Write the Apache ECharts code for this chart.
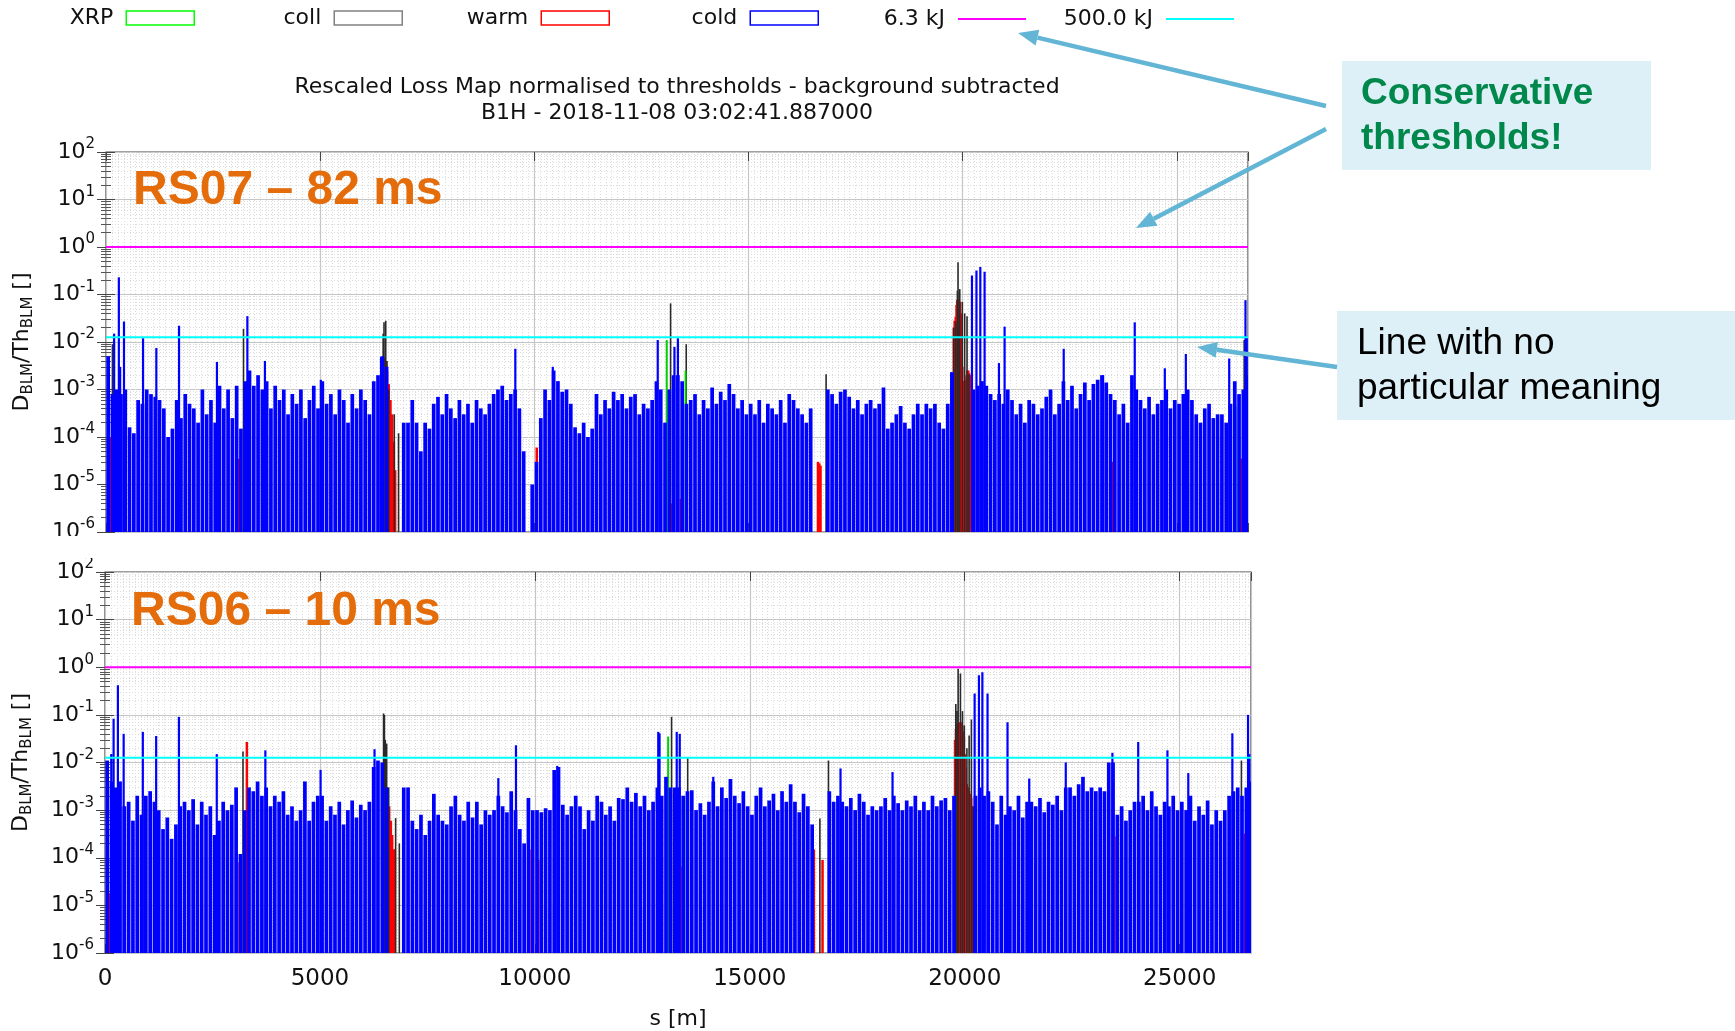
<!DOCTYPE html>
<html>
<head>
<meta charset="utf-8">
<title>Rescaled Loss Map B1H</title>
<script src="https://cdn.jsdelivr.net/npm/echarts@6/dist/echarts.min.js"></script>
<style>
  html, body { margin: 0; padding: 0; background: #ffffff; }
  #chart { width: 1735px; height: 1031px; }
</style>
</head>
<body>
<div id="chart"></div>
<script>
// ---------------------------------------------------------------------------
// Data: BLM signal normalised to threshold, B1H loss map 2018-11-08 03:02:41
// s positions in metres along the ring; values are D_BLM / Th_BLM
// ---------------------------------------------------------------------------
const ringLength = 26659;
const binSize = 100;               // cold-magnet monitors summarised per 100 m bin

// RS07 (82 ms running sum) - cold monitors, highest signal per 100 m bin
const coldBinsRS07 = [
  5e-3, 8e-4, 1e-3, 8e-4, 1e-3, 1.6e-4, 1.2e-4, 6e-4, 5e-4, 1e-3,
  8e-4, 7e-4, 6e-4, 4e-4, 1e-4, 1.5e-4, 6e-4, 2.5e-4, 8e-4, 5e-4,
  4e-4, 2e-4, 1e-3, 3e-4, 6e-4, 2e-4, 1.2e-3, 4e-4, 1e-3, 2.5e-4,
  1.2e-3, 1.5e-4, 1.5e-3, 2.5e-3, 1.2e-3, 2e-3, 1e-3, 1.5e-3, 4e-4, 1.2e-3,
  6e-4, 1e-3, 3e-4, 8e-4, 5e-4, 1e-3, 2.5e-4, 6e-4, 1.2e-3, 4e-4,
  1.5e-3, 5e-4, 8e-4, 3e-4, 1e-3, 6e-4, 2e-4, 8e-4, 4e-4, 1e-3,
  6e-4, 3e-4, 1.5e-3, 2e-3, 5e-3, 3e-3, null, null, null, 2e-4,
  2e-4, 6e-4, 2e-4, 5e-5, 2e-4, 1.5e-4, 5e-4, 7e-4, 3e-4, 8e-4,
  4e-4, 2.5e-4, 6e-4, 3e-4, 5e-4, 2e-4, 6e-4, 4e-4, 3e-4, 5e-4,
  8e-4, 1e-3, 1.2e-3, 6e-4, 8e-4, 1e-3, 4e-4, 5e-5, null, 1e-5,
  3e-5, 2.5e-4, 1e-3, 6e-4, 2.5e-3, 1.5e-3, 9e-4, 1e-3, 5e-4, 1.6e-4,
  1.2e-4, 2e-4, 1e-4, 1.5e-4, 8e-4, 3e-4, 6e-4, 4e-4, 9e-4, 6e-4,
  8e-4, 4e-4, 7e-4, 8e-4, 3e-4, 5e-4, 4e-4, 6e-4, 1.5e-3, 1e-3,
  2e-4, 1e-3, 2e-3, 2e-3, 1.5e-3, 5e-4, 6e-4, 8e-4, 3e-4, 6e-4,
  4e-4, 1.1e-3, 5e-4, 9e-4, 6e-4, 1.3e-3, 8e-4, 4e-4, 6e-4, 3e-4,
  5e-4, 3e-4, 6e-4, 2e-4, 5e-4, 4e-4, 3e-4, 6e-4, 2e-4, 8e-4,
  6e-4, 4e-4, 3e-4, 2e-4, 4e-4, null, null, null, 1e-3, 8e-4,
  5e-4, 9e-4, 1e-3, 7e-4, 4e-4, 6e-4, 3e-4, 5e-4, 6e-4, 4e-4,
  5e-4, 1.1e-3, 1.5e-4, 2e-4, 3e-4, 4.5e-4, 2e-4, 1.5e-4, 3e-4, 5e-4,
  3e-4, 5e-4, 4e-4, 5e-4, 2e-4, 1.5e-4, 5e-4, 2.3e-3, null, null,
  null, null, 1e-3, 1.2e-3, 1.5e-3, 1.2e-3, 8e-4, 6e-4, 8e-4, 5e-4,
  1e-3, 6e-4, 3e-4, 5e-4, 2e-4, 6e-4, 5e-4, 3e-4, 4e-4, 7e-4,
  1e-3, 3e-4, 5e-4, 1.5e-3, 6e-4, 1.2e-3, 4e-4, 8e-4, 1.4e-3, 6e-4,
  1.3e-3, 1.6e-3, 2e-3, 1.4e-3, 8e-4, 6e-4, 3e-4, 5e-4, 2e-4, 2e-3,
  1e-3, 6e-4, 4e-4, 7e-4, 3e-4, 5e-4, 6e-4, 1e-3, 4e-4, 6e-4,
  5e-4, 8e-4, 1e-3, 6e-4, 3e-4, 2e-4, 4e-4, 5e-4, 2.5e-4, 3e-4,
  3e-4, 2e-4, 5e-4, 1.5e-3, 8e-4, 1e-3, 2e-3
];

// RS07 - individual cold monitors standing out above the bins [s, value]
const coldPeaksRS07 = [
  [190, 1.5e-2], [300, 0.23], [330, 3e-3], [420, 2.7e-2], [865, 1.2e-2],
  [1175, 7.5e-3], [1705, 2.2e-2], [2590, 3.8e-3], [3300, 3.5e-2], [3710, 4e-3],
  [5015, 1.6e-3], [6420, 4.8e-3], [9555, 7.2e-3], [10430, 3e-3], [12880, 1.1e-2],
  [13270, 7.9e-3], [13350, 1.2e-2], [19730, 2.3e-3], [20215, 0.25], [20320, 0.32],
  [20410, 0.38], [20510, 0.3], [20845, 3.6e-3], [20977, 2.1e-2], [22357, 7.2e-3],
  [23276, 2e-3], [24015, 2.6e-2], [24717, 2.8e-3], [25208, 5.6e-3], [26220, 4.5e-3],
  [26600, 7.6e-2], [26630, 1.3e-2]
];

// RS07 - warm monitors [s, value]
const warmRS07 = [
  [110, 1e-4], [3110, 3.5e-5], [6440, 4.5e-3], [6470, 4.8e-3], [6500, 4.5e-3],
  [6530, 4e-3], [6560, 2.5e-3], [6600, 1.3e-3], [6640, 6e-4], [6680, 3e-4],
  [6720, 8e-5], [6750, 2e-5], [10055, 6e-5], [13200, 4e-6], [13420, 5e-6],
  [16620, 3e-5], [16650, 2.8e-5], [16680, 2.5e-5],
  [19790, 2e-2], [19810, 2.8e-2], [19835, 3.4e-2], [19855, 6e-2], [19870, 7.6e-2],
  [19890, 8e-2], [19910, 7.5e-2], [19935, 7e-2], [19955, 4e-2], [19970, 1.5e-2],
  [19990, 3e-3], [20010, 1.5e-3], [20030, 1.5e-3], [20050, 1.5e-3], [20070, 1.6e-3],
  [20090, 2e-3], [20110, 2.5e-3], [20130, 2.5e-3], [20150, 2.2e-3], [20165, 2e-3],
  [23510, 3e-5], [26510, 3.5e-5]
];

// RS07 - collimator monitors [s, value]
const collRS07 = [
  [150, 9e-3], [3210, 1.9e-2], [6470, 1.5e-2], [6490, 2.6e-2], [6530, 2.8e-2],
  [6560, 4e-3], [6600, 1e-3], [6730, 3e-4], [6830, 1.2e-4], [13180, 6.5e-2],
  [13545, 9e-3], [16810, 2.1e-3], [19790, 2e-2], [19835, 2.7e-2], [19875, 0.12],
  [19890, 0.48], [19930, 0.13], [19990, 7e-2], [20045, 4e-2], [20100, 3.5e-2],
  [20145, 2.1e-3], [26570, 1.1e-2]
];

// RS07 - XRP monitors [s, value]
const xrpRS07 = [[240, 5e-4], [13090, 1.1e-2], [13530, 2.5e-3], [26370, 4.5e-4]];

// RS06 (10 ms running sum) - cold monitors, highest signal per 100 m bin
const coldBinsRS06 = [
  1.1e-2, 4e-3, 3e-3, 4e-3, 1.2e-3, 1.5e-3, 6e-4, 2e-3, 8e-4, 2e-3,
  2.5e-3, 1.5e-3, 1e-3, 4e-4, 7e-4, 2.5e-4, 5e-4, 1.2e-3, 1.5e-3, 1e-3,
  1.7e-3, 5e-4, 1.5e-3, 8e-4, 1.2e-3, 3e-4, 6e-4, 1.5e-3, 1e-3, 1.3e-3,
  3e-3, 1.2e-4, 1e-3, 3e-3, 2.5e-3, 4e-3, 2e-3, 3e-3, 1.2e-3, 2e-3,
  1.5e-3, 2.5e-3, 8e-4, 1.2e-3, 6e-4, 1e-3, 4e-3, 6e-4, 1.5e-3, 2e-3,
  2e-3, 6e-4, 1.2e-3, 8e-4, 1.5e-3, 5e-4, 1e-3, 1.6e-3, 7e-4, 1.3e-3,
  1e-3, 1.5e-3, 8e-3, 1.1e-2, 1e-2, 3e-3, null, null, null, 3e-3,
  3e-3, 6e-4, 4e-4, 8e-4, 3e-4, 6e-4, 2.2e-3, 8e-4, 6e-4, 5e-4,
  1.2e-3, 2e-3, 8e-4, 6e-4, 1.5e-3, 7e-4, 1.5e-3, 5e-4, 1e-3, 8e-4,
  1e-3, 2e-3, 1.2e-3, 9e-4, 2.5e-3, 1e-3, 4e-4, 2e-4, 1.8e-3, 1e-3,
  1e-3, 9e-4, 1.1e-3, 1e-3, 7e-3, 8e-3, 1.3e-3, 8e-4, 1.2e-3, 2e-3,
  1.2e-3, 4e-4, 1e-3, 6e-4, 2e-3, 1.5e-3, 8e-4, 1.2e-3, 6e-4, 1.8e-3,
  1.7e-3, 3e-3, 1.5e-3, 2.3e-3, 1.2e-3, 2e-3, 1e-3, 1.5e-3, 3e-3, 2e-3,
  5e-3, 3e-3, 3e-3, 3e-3, 2e-3, 2.5e-3, 2.6e-3, 1e-3, 1.4e-3, 8e-4,
  1.5e-3, 4e-3, 1.2e-3, 3e-3, 1.8e-3, 4.5e-3, 2e-3, 1.4e-3, 2.5e-3, 1.2e-3,
  8e-4, 2e-3, 3e-3, 1.2e-3, 1.6e-3, 2.2e-3, 1e-3, 2.5e-3, 1.5e-3, 3.5e-3,
  1.5e-3, 9e-4, 2.2e-3, 1.2e-3, 5e-4, null, null, null, 2.5e-3, 1.5e-3,
  2e-3, 1.5e-3, 1.2e-3, 1.8e-3, 1e-3, 2.2e-3, 1.5e-3, 8e-4, 1.2e-3, 1e-3,
  1.2e-3, 1.8e-3, 1e-3, 2e-3, 1.4e-3, 1e-3, 1.6e-3, 1.2e-3, 2e-3, 1e-3,
  1.5e-3, 1e-3, 2e-3, 1.2e-3, 1.6e-3, 1.8e-3, 1e-3, 2e-3, null, null,
  null, null, 2e-3, 3e-3, 2e-3, 2.5e-3, 1.5e-3, 5e-4, 2e-3, 8e-4,
  1.2e-3, 1e-3, 2e-3, 7e-4, 1.5e-3, 1.5e-3, 1.2e-3, 1.8e-3, 9e-4, 1.5e-3,
  1.3e-3, 2e-3, 1e-3, 3e-3, 3e-3, 2e-3, 3.5e-3, 5e-3, 2.5e-3, 3e-3,
  2.5e-3, 3e-3, 2.5e-3, 1e-2, 1e-2, 8e-4, 1.2e-3, 6e-4, 1e-3, 1.5e-3,
  1.5e-3, 2e-3, 1e-3, 2.5e-3, 1.2e-3, 8e-4, 1.5e-3, 1.2e-3, 2e-3, 1e-3,
  1.5e-3, 1e-3, 2e-3, 6e-4, 1.2e-3, 8e-4, 1.6e-3, 5e-4, 1e-3, 6e-4,
  1e-3, 2e-3, 2.5e-3, 3e-3, 2e-3, 3e-3, 4e-3
];

// RS06 - individual cold monitors standing out above the bins [s, value]
const coldPeaksRS06 = [
  [147, 1.5e-2], [200, 8.3e-2], [300, 0.42], [434, 4e-2], [880, 4.4e-2],
  [1190, 3.6e-2], [1720, 9.1e-2], [2600, 1.5e-2], [3730, 1.8e-2], [5015, 7e-3],
  [6270, 1.9e-2], [9150, 4.7e-3], [9560, 2.3e-2], [10520, 8.5e-3], [12870, 4.4e-2],
  [12900, 4.1e-2], [13300, 4.4e-2], [13370, 4e-2], [14150, 5e-3], [14540, 4.5e-3],
  [17110, 7.5e-3], [18320, 6.3e-3], [20230, 0.28], [20330, 0.68], [20410, 0.79],
  [20530, 0.28], [20995, 7e-2], [21500, 4.6e-3], [22350, 1e-2], [23435, 1.6e-2],
  [24035, 2.7e-2], [24715, 1.8e-2], [25200, 6e-3], [26225, 4.1e-2], [26590, 0.1],
  [26620, 1.5e-2]
];

// RS06 - warm monitors [s, value]
const warmRS06 = [
  [110, 1.8e-5], [3130, 8e-5], [3300, 2.7e-2], [6480, 5e-3], [6500, 5.9e-3],
  [6520, 5.5e-3], [6550, 3e-3], [6580, 1.2e-3], [6610, 1.2e-3], [6650, 6e-4],
  [6680, 3e-4], [6710, 1.5e-4], [6740, 1.5e-4], [9923, 1.5e-4], [10078, 9e-5],
  [13256, 1.5e-5], [13434, 6.5e-5], [16490, 1.5e-4], [16692, 9e-5],
  [19775, 3e-2], [19795, 5e-2], [19815, 6e-2], [19840, 6.5e-2], [19865, 6.7e-2],
  [19890, 7e-2], [19915, 7e-2], [19940, 6e-2], [19960, 4.5e-2], [19980, 3.5e-2],
  [20000, 1.5e-2], [20025, 8e-3], [20050, 3.5e-3], [20075, 3e-3], [20100, 2.5e-3],
  [20125, 2.2e-3], [20150, 1.8e-3], [20175, 1.2e-3], [20195, 1e-3],
  [23530, 2.8e-4], [26515, 3.2e-4]
];

// RS06 - collimator monitors [s, value]
const collRS06 = [
  [150, 1.5e-2], [3210, 1.7e-2], [6480, 0.107], [6500, 0.1], [6520, 3e-2],
  [6552, 2.5e-2], [6600, 3e-3], [6761, 6.8e-4], [6847, 2e-4], [13180, 9.1e-2],
  [13555, 1.3e-2], [16630, 6.7e-4], [16830, 1.1e-2], [19792, 0.17], [19820, 0.12],
  [19846, 0.93], [19900, 0.74], [19947, 0.12], [19990, 6e-2], [20050, 2e-2],
  [20102, 3.7e-2], [20155, 8e-2], [20195, 1.2e-3], [26436, 1.1e-2]
];

// RS06 - XRP monitors [s, value]
const xrpRS06 = [[240, 5e-4], [13100, 3.5e-2], [13530, 2e-3]];

// Energy-equivalent reference levels (normalised)
const levelNames = ['6.3 kJ', '500.0 kJ'];
const levelValues = [1.0, 0.0126];

// Axis ticks
const sTicks = [0, 5000, 10000, 15000, 20000, 25000];
const yDecades = [-6, -5, -4, -3, -2, -1, 0, 1, 2];

// ---------------------------------------------------------------------------
const Y_MIN = Math.pow(10, yDecades[0]);
const Y_MAX = Math.pow(10, yDecades[yDecades.length - 1]);
const FONT = 'DejaVu Sans';
const COLORS = { XRP: '#00d000', coll: '#2a2a2a', warm: '#ff0000', cold: '#0000ff' };
const LEVEL_COLORS = ['#ff00ff', '#00ffff'];

function binsToPoints(bins) {
  const pts = [];
  bins.forEach((v, i) => { if (v != null) pts.push([i * binSize + binSize / 2, v]); });
  return pts;
}

const panels = [
  { grid: { left: 106, top: 152, width: 1142, height: 380 },
    bins: binsToPoints(coldBinsRS07), peaks: coldPeaksRS07,
    warm: warmRS07, coll: collRS07, xrp: xrpRS07 },
  { grid: { left: 105, top: 572, width: 1146, height: 381 },
    bins: binsToPoints(coldBinsRS06), peaks: coldPeaksRS06,
    warm: warmRS06, coll: collRS06, xrp: xrpRS06 }
];

function barSeries(name, data, color, width, p, z) {
  return {
    type: 'custom', name, data, z,
    xAxisIndex: p * 2, yAxisIndex: p * 2,
    encode: { x: 0, y: 1 },
    itemStyle: { color },
    clip: true, silent: true, animation: false,
    renderItem: (params, api) => {
      const top = api.coord([api.value(0), api.value(1)]);
      const base = api.coord([api.value(0), Y_MIN]);
      return {
        type: 'rect',
        shape: { x: top[0] - width / 2, y: top[1], width, height: base[1] - top[1] },
        style: { fill: color }
      };
    }
  };
}

function powLabel(v) {
  const e = Math.round(Math.log10(v));
  return '{b|10}{e|' + e + '}';
}

const xAxes = [], yAxes = [], series = [];
panels.forEach((panel, p) => {
  const isBottom = p === 1;
  xAxes.push({
    type: 'value', gridIndex: p, min: 0, max: ringLength, interval: sTicks[1] - sTicks[0],
    axisLine: { show: false },
    axisTick: { show: true, inside: true, length: 9, lineStyle: { color: '#444' } },
    splitLine: { show: true, lineStyle: { color: '#c6c6c6', width: 1.2 } },
    minorTick: { show: false, splitNumber: 36 },
    minorSplitLine: { show: true, lineStyle: { color: '#dcdcdc', width: 1, type: [1, 2] } },
    axisLabel: {
      show: isBottom, fontSize: 23, fontFamily: FONT, color: '#111', margin: 15,
      showMaxLabel: false, formatter: v => String(v)
    },
    name: isBottom ? 's [m]' : '', nameLocation: 'middle', nameGap: 55,
    nameTextStyle: { fontSize: 22, fontFamily: FONT, color: '#111' }
  });
  xAxes.push({
    type: 'value', gridIndex: p, min: 0, max: ringLength, interval: sTicks[1] - sTicks[0],
    position: 'top', axisLine: { show: false },
    axisTick: { show: true, inside: true, length: 9, lineStyle: { color: '#444' } },
    splitLine: { show: false }, axisLabel: { show: false }
  });
  yAxes.push({
    type: 'log', logBase: 10, gridIndex: p, min: Y_MIN, max: Y_MAX, splitNumber: yDecades.length - 1,
    axisLine: { show: false },
    axisTick: { show: true, inside: true, length: 9, lineStyle: { color: '#444' } },
    minorTick: { show: true, splitNumber: 9, length: 5, lineStyle: { color: '#555' } },
    splitLine: { show: true, lineStyle: { color: '#c6c6c6', width: 1.2 } },
    minorSplitLine: { show: true, lineStyle: { color: '#dcdcdc', width: 1, type: [1, 2] } },
    axisLabel: {
      formatter: powLabel, margin: 11, color: '#111',
      rich: {
        b: { fontSize: 22, fontFamily: FONT, color: '#111', lineHeight: 30 },
        e: { fontSize: 15, fontFamily: FONT, color: '#111', lineHeight: 15, verticalAlign: 'top' }
      }
    },
    name: 'D{s|BLM}/Th{s|BLM} []', nameLocation: 'middle', nameRotate: 90, nameGap: 70,
    nameTextStyle: {
      fontSize: 22, fontFamily: FONT, color: '#111', lineHeight: 28,
      rich: { s: { fontSize: 15, fontFamily: FONT, color: '#111', lineHeight: 15, verticalAlign: 'bottom' } }
    }
  });
  yAxes.push({
    type: 'log', logBase: 10, gridIndex: p, min: Y_MIN, max: Y_MAX, splitNumber: yDecades.length - 1,
    position: 'right', axisLine: { show: false },
    axisTick: { show: true, inside: true, length: 9, lineStyle: { color: '#444' } },
    minorTick: { show: true, splitNumber: 9, length: 5, lineStyle: { color: '#555' } },
    splitLine: { show: false }, axisLabel: { show: false }
  });

  series.push(barSeries('warm', panel.warm, COLORS.warm, 2.5, p, 3));
  series.push(barSeries('coll', panel.coll, COLORS.coll, 1.6, p, 4));
  series.push(barSeries('XRP', panel.xrp, COLORS.XRP, 2, p, 5));
  series.push(barSeries('cold', panel.bins, COLORS.cold, 3.7, p, 6));
  series.push(barSeries('cold', panel.peaks, COLORS.cold, 2.2, p, 6));
  levelNames.forEach((name, k) => {
    series.push({
      type: 'line', name, xAxisIndex: p * 2, yAxisIndex: p * 2, z: 10,
      data: [[0, levelValues[k]], [ringLength, levelValues[k]]],
      symbol: 'none', silent: true, animation: false,
      lineStyle: { color: LEVEL_COLORS[k], width: 2 },
      itemStyle: { color: LEVEL_COLORS[k] }
    });
  });
});

// Key: one entry per column, sample drawn right of the text
const keyEntries = [
  { name: 'XRP', right: 1540, color: '#00ff00', box: true },
  { name: 'coll', right: 1332, color: '#808080', box: true },
  { name: 'warm', right: 1125, color: '#ff0000', box: true },
  { name: 'cold', right: 916, color: '#0000ff', box: true },
  { name: '6.3 kJ', right: 709, color: '#ff00ff', box: false },
  { name: '500.0 kJ', right: 501, color: '#00ffff', box: false }
];
const legends = keyEntries.map(k => ({
  data: [k.box
    ? { name: k.name, icon: 'rect', itemStyle: { color: 'rgba(0,0,0,0)', borderColor: k.color, borderWidth: 1.5 } }
    : { name: k.name, icon: 'rect', itemStyle: { color: k.color, borderWidth: 0 } }],
  right: k.right, top: k.box ? 7 : 8, padding: 0, align: 'right', orient: 'horizontal',
  itemWidth: 68, itemHeight: k.box ? 14 : 2, selectedMode: false,
  textStyle: { fontSize: 22, fontFamily: FONT, color: '#111', padding: [0, 8, 0, 0] }
}));

// Annotation call-outs
const CALLOUT_BLUE = '#62b5d4';
function arrow(x1, y1, x2, y2) {
  const a = Math.atan2(y2 - y1, x2 - x1);
  const len = 20, half = 8;
  const bx = x2 - len * Math.cos(a), by = y2 - len * Math.sin(a);
  const nx = -Math.sin(a) * half, ny = Math.cos(a) * half;
  return [
    { type: 'line', z: 100, shape: { x1, y1, x2: bx, y2: by }, style: { stroke: CALLOUT_BLUE, lineWidth: 4.5 } },
    { type: 'polygon', z: 100, shape: { points: [[x2, y2], [bx + nx, by + ny], [bx - nx, by - ny]] }, style: { fill: CALLOUT_BLUE } }
  ];
}

const graphics = [
  // lower half of the bottom tick label of the upper panel sits under the lower panel
  { type: 'rect', z: 90, shape: { x: 30, y: 536, width: 72, height: 22 }, style: { fill: '#ffffff' } },
  { type: 'text', z: 100, x: 133, y: 191, style: { text: 'RS07 – 82 ms', font: 'bold 48px "Liberation Sans"', fill: '#e46c0a', verticalAlign: 'middle' } },
  { type: 'text', z: 100, x: 131, y: 612, style: { text: 'RS06 – 10 ms', font: 'bold 48px "Liberation Sans"', fill: '#e46c0a', verticalAlign: 'middle' } },
  { type: 'rect', z: 95, shape: { x: 1342, y: 61, width: 309, height: 109 }, style: { fill: '#def0f7' } },
  { type: 'text', z: 100, x: 1361, y: 94, style: { text: 'Conservative', font: 'bold 37px "Liberation Sans"', fill: '#00874b', verticalAlign: 'middle' } },
  { type: 'text', z: 100, x: 1361, y: 139, style: { text: 'thresholds!', font: 'bold 37px "Liberation Sans"', fill: '#00874b', verticalAlign: 'middle' } },
  { type: 'rect', z: 95, shape: { x: 1337, y: 311, width: 398, height: 109 }, style: { fill: '#def0f7' } },
  { type: 'text', z: 100, x: 1357, y: 344, style: { text: 'Line with no', font: '37px "Liberation Sans"', fill: '#000000', verticalAlign: 'middle' } },
  { type: 'text', z: 100, x: 1357, y: 389, style: { text: 'particular meaning', font: '37px "Liberation Sans"', fill: '#000000', verticalAlign: 'middle' } }
].concat(arrow(1326, 106, 1018, 33), arrow(1326, 129, 1136, 228), arrow(1337, 367, 1197, 347));

const option = {
  backgroundColor: '#ffffff',
  animation: false,
  title: {
    text: 'Rescaled Loss Map normalised to thresholds - background subtracted\nB1H - 2018-11-08 03:02:41.887000',
    left: 677, top: 74, padding: 0, textAlign: 'center',
    textStyle: { fontSize: 22, fontWeight: 'normal', fontFamily: FONT, color: '#111', lineHeight: 26 }
  },
  legend: legends,
  grid: panels.map(pn => Object.assign({
    show: true, borderColor: '#444', borderWidth: 1.2, backgroundColor: 'transparent',
    containLabel: false, outerBoundsMode: 'none'
  }, pn.grid)),
  xAxis: xAxes,
  yAxis: yAxes,
  series,
  graphic: graphics
};

const chart = echarts.init(document.getElementById('chart'), null, { renderer: 'canvas' });
chart.setOption(option);
</script>
</body>
</html>
